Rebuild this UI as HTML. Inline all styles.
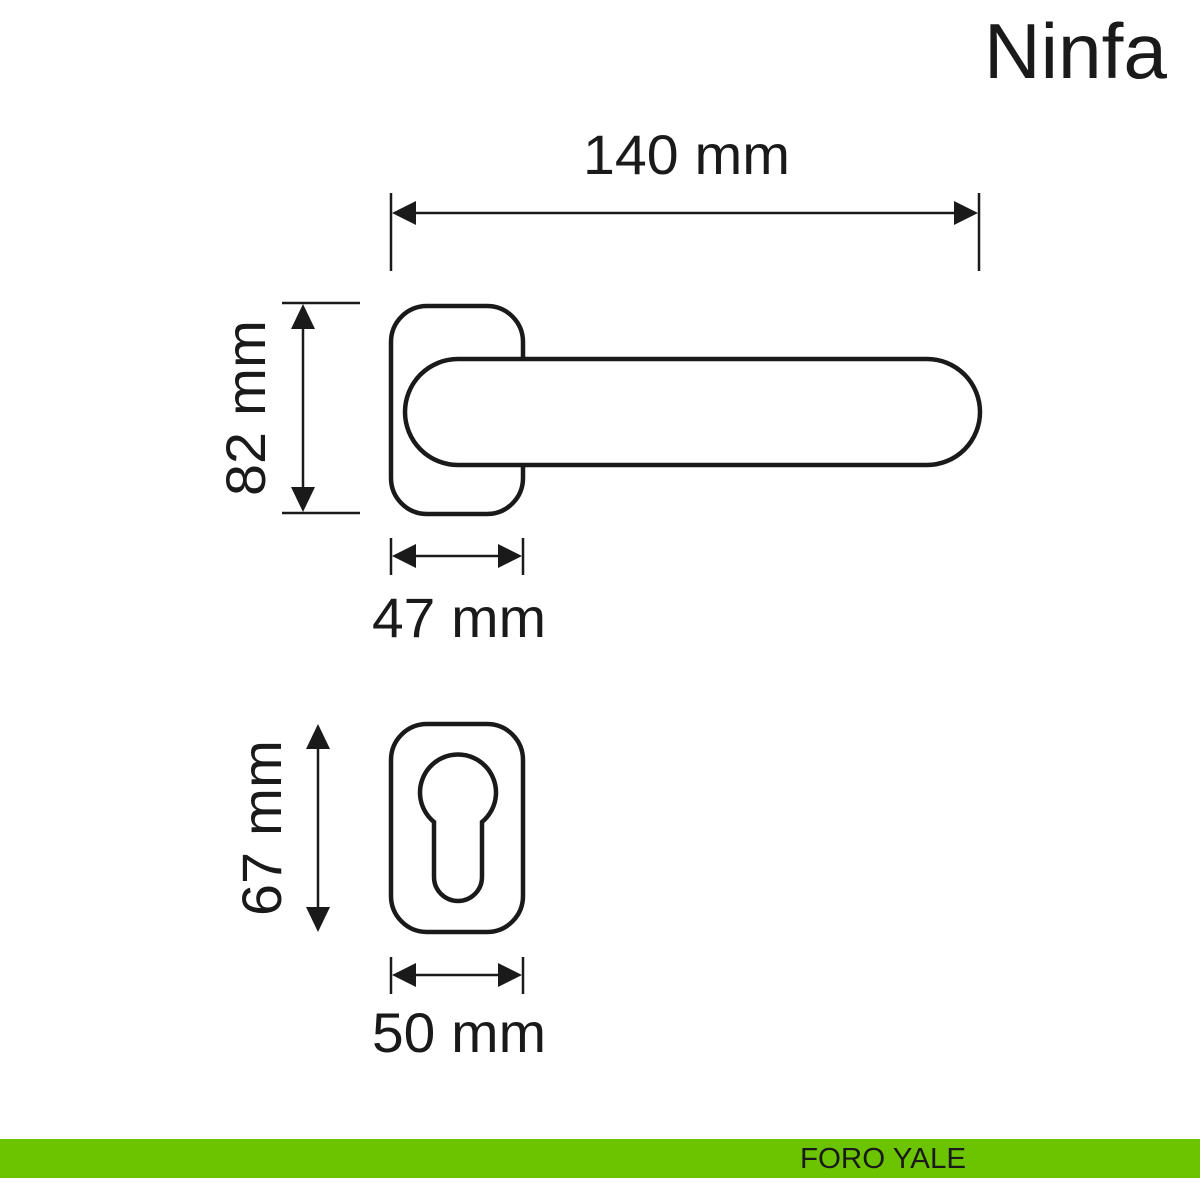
<!DOCTYPE html>
<html><head><meta charset="utf-8"><style>
html,body{margin:0;padding:0;background:#fff;}
svg{display:block;}
text{font-family:"Liberation Sans",sans-serif;fill:#1a1a1a;}
</style></head><body>
<svg width="1200" height="1200" viewBox="0 0 1200 1200" xmlns="http://www.w3.org/2000/svg">
<rect width="1200" height="1200" fill="#fff"/>
<text x="984" y="78" font-size="78" textLength="183" lengthAdjust="spacingAndGlyphs">Ninfa</text>
<text x="583" y="174" font-size="56" textLength="207" lengthAdjust="spacingAndGlyphs">140 mm</text>
<g stroke="#1a1a1a" stroke-width="2.5" fill="none">
<line x1="391" y1="193" x2="391" y2="271"/>
<line x1="979" y1="193" x2="979" y2="271"/>
<line x1="400" y1="213" x2="970" y2="213"/>
<line x1="282" y1="303" x2="360" y2="303"/>
<line x1="282" y1="513" x2="360" y2="513"/>
<line x1="303" y1="312" x2="303" y2="504"/>
<line x1="391" y1="538" x2="391" y2="575"/>
<line x1="523" y1="538" x2="523" y2="575"/>
<line x1="400" y1="556" x2="514" y2="556"/>
<line x1="318" y1="733" x2="318" y2="923"/>
<line x1="391" y1="957" x2="391" y2="994"/>
<line x1="523" y1="957" x2="523" y2="994"/>
<line x1="400" y1="975" x2="514" y2="975"/>
</g>
<g fill="#1a1a1a">
<polygon points="392,213 416,201 416,225"/>
<polygon points="978,213 954,201 954,225"/>
<polygon points="303,304 291,329 315,329"/>
<polygon points="303,512 291,487 315,487"/>
<polygon points="392,556 416,544 416,568"/>
<polygon points="522,556 498,544 498,568"/>
<polygon points="318,724 306,749 330,749"/>
<polygon points="318,932 306,907 330,907"/>
<polygon points="392,975 416,963 416,987"/>
<polygon points="522,975 498,963 498,987"/>
</g>
<text transform="translate(265,496) rotate(-90)" font-size="56" textLength="176" lengthAdjust="spacingAndGlyphs">82 mm</text>
<text transform="translate(281,916) rotate(-90)" font-size="56" textLength="176" lengthAdjust="spacingAndGlyphs">67 mm</text>
<text x="372" y="637" font-size="56" textLength="174" lengthAdjust="spacingAndGlyphs">47 mm</text>
<text x="372" y="1052" font-size="56" textLength="174" lengthAdjust="spacingAndGlyphs">50 mm</text>
<g stroke="#1a1a1a" stroke-width="4.5" fill="#fff">
<rect x="391" y="306" width="132" height="208" rx="36"/>
<path d="M458,359 L927,359 A53,53 0 0 1 927,465 L458,465 A53,53 0 0 1 458,359 Z"/>
<rect x="391" y="724" width="132" height="208" rx="36"/>
<path d="M434,822 A38,38 0 1 1 482,822 L482,877 A24,24 0 0 1 434,877 Z"/>
</g>
<rect x="0" y="1139" width="1200" height="39" fill="#6cc300"/>
<text x="800" y="1168" font-size="29" fill="#111" textLength="166" lengthAdjust="spacingAndGlyphs">FORO YALE</text>
</svg>
</body></html>
